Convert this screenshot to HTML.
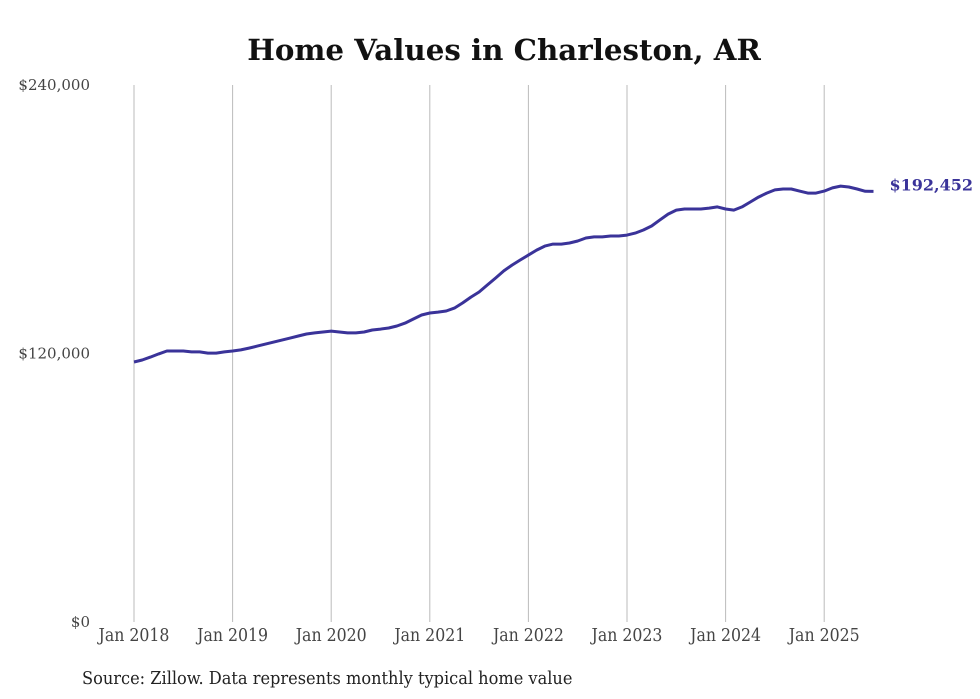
<!DOCTYPE html>
<html><head><meta charset="utf-8"><style>
html,body{margin:0;padding:0;background:#fff;}
svg{display:block;font-family:"DejaVu Serif Condensed","DejaVu Serif","Liberation Serif",serif;font-stretch:condensed;}
.reg{font-family:"DejaVu Serif","Liberation Serif",serif;font-stretch:normal;}
</style></head><body>
<svg id="chart" width="980" height="699">
<text class="reg" x="504" y="60" text-anchor="middle" font-size="29.3" font-weight="bold" fill="#111">Home Values in Charleston, AR</text>
<g id="grid"></g><g id="yticks"></g><g id="xticks"></g><g id="series"></g>
<text x="82" y="684" font-size="18" fill="#222">Source: Zillow. Data represents monthly typical home value</text>
</svg>
<script>
const yTickValues=[0,120000,240000];
const yTickLabels=["$0","$120,000","$240,000"];
const xTickYears=[2018,2019,2020,2021,2022,2023,2024,2025];
const xTickLabels=["Jan 2018","Jan 2019","Jan 2020","Jan 2021","Jan 2022","Jan 2023","Jan 2024","Jan 2025"];
const startYear=2018;
const valuesK=[116.2,117.1,118.4,119.8,121.1,121.1,121.1,120.7,120.7,120.2,120.2,120.7,
121.1,121.6,122.4,123.3,124.2,125.1,126.0,126.9,127.8,128.7,129.2,129.6,
130.0,129.6,129.2,129.2,129.6,130.5,130.9,131.4,132.3,133.6,135.4,137.2,
138.1,138.5,139.0,140.3,142.6,145.2,147.5,150.6,153.7,156.9,159.5,161.8,
164.0,166.2,168.0,168.9,168.9,169.4,170.3,171.6,172.1,172.1,172.5,172.5,
172.9,173.8,175.2,177.0,179.7,182.3,184.1,184.6,184.6,184.6,185.0,185.5,
184.6,184.1,185.5,187.7,189.9,191.7,193.1,193.5,193.5,192.6,191.7,191.7,
192.6,194.0,194.8,194.4,193.5,192.5,192.452];
const lastLabel="$192,452";
const NS="http://www.w3.org/2000/svg";
const y=v=>622-v/240000*537;
const x=m=>134+m/12*98.6;
function mk(t,a,p){const e=document.createElementNS(NS,t);for(const k in a)e.setAttribute(k,a[k]);p.appendChild(e);return e;}
const grid=document.getElementById('grid'),yt=document.getElementById('yticks'),xt=document.getElementById('xticks'),ser=document.getElementById('series');
xTickYears.forEach((yr,i)=>{const xx=x((yr-startYear)*12);
const l=mk('line',{x1:xx,x2:xx,y1:85,y2:622,stroke:'#bbb','stroke-width':1},grid);


const t=mk('text',{x:xx,y:641,'text-anchor':'middle','font-size':17.5,fill:'#444'},xt);t.textContent=xTickLabels[i];

});
yTickValues.forEach((v,i)=>{const t=mk('text',{x:90,y:y(v)+5,'text-anchor':'end','font-size':15,fill:'#444',class:'reg'},yt);t.textContent=yTickLabels[i];

});
const pts=valuesK.map((v,i)=>[x(i),y(v*1000)]);
const p=mk('path',{d:'M'+pts.map(q=>q[0].toFixed(1)+','+q[1].toFixed(1)).join('L'),fill:'none',stroke:'#3a3399','stroke-width':3,'stroke-linejoin':'round'},ser);


const last=pts[pts.length-1];
const lt=mk('text',{x:last[0]+16,y:last[1]-1,'font-size':16,'font-weight':'bold',fill:'#3a3399',class:'reg'},ser);lt.textContent=lastLabel;


</script>
</body></html>
